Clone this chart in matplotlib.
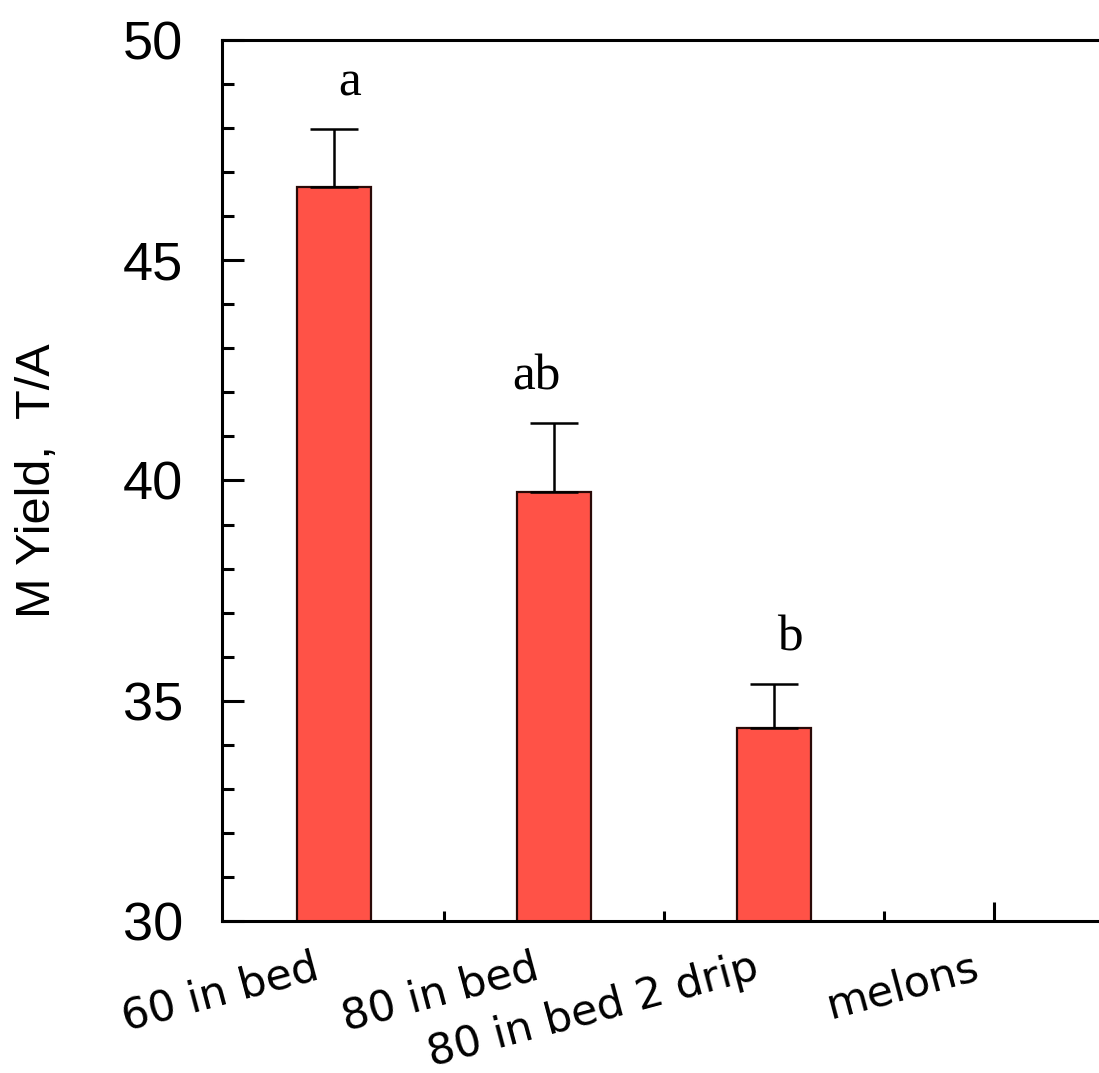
import numpy as np
import matplotlib as mpl
mpl.use('Agg')
import matplotlib.pyplot as plt
import matplotlib.transforms as mtransforms

# ---- data ----
categories = ['60 in bed', '80 in bed', '80 in bed 2 drip', 'melons']
yields = [46.66, 39.74, 34.38]
errors = [1.32, 1.57, 1.00]
letters = ['a', 'ab', 'b']

# ---- style ----
dpi = 100
mpl.rc('figure', facecolor='white')
mpl.rc('font', family=['Liberation Sans', 'DejaVu Sans'])
mpl.rc('axes', linewidth=2.2)
mpl.rc('ytick', direction='in', labelsize=39)
mpl.rc('xtick', direction='in')
mpl.rc('ytick.major', size=16, width=2.2, pad=28)
mpl.rc('ytick.minor', size=8.5, width=2.2)
mpl.rc('xtick.major', size=14, width=2.2)
mpl.rc('xtick.minor', size=7, width=2.2)

fig = plt.figure(figsize=(1099/dpi, 1073/dpi), dpi=dpi)
ax = fig.add_axes([222/1099, 152/1073, 1 - 222/1099, 881/1073])

x = np.arange(len(yields))
ax.bar(x, yields, width=0.336, bottom=0, color='#ff5247',
       edgecolor='#2a0a08', linewidth=1.6, zorder=2)
ax.errorbar(x, yields, yerr=[np.zeros(len(errors)), errors], fmt='none',
            ecolor='black', elinewidth=1.8, capsize=17, capthick=1.8, zorder=3)

# significance letters
dx = [0.07, -0.08, 0.07]
for i, lab in enumerate(letters):
    ax.text(x[i] + dx[i], yields[i] + errors[i] + 0.75, lab,
            ha='center', va='baseline', fontsize=37,
            family=['Liberation Serif', 'DejaVu Serif'])

ax.set_xlim(-0.509, 3.477)
ax.set_ylim(30, 50)
ax.set_yticks(np.arange(30, 51, 5))
ax.yaxis.set_minor_locator(mpl.ticker.MultipleLocator(1))
ax.set_xticks([3])
ax.set_xticks([0.5, 1.5, 2.5], minor=True)
ax.set_xticklabels([])
ax.spines['right'].set_visible(False)

# slanted category labels
trans = mtransforms.blended_transform_factory(ax.transData, ax.transAxes)
for i, cat in enumerate(categories):
    ax.text(i - 0.06, -0.065, cat, transform=trans, rotation=15,
            rotation_mode='anchor', ha='right', va='baseline', fontsize=31,
            family=['DejaVu Sans'])

ax.set_ylabel('M Yield,  T/A', fontsize=35)
ax.yaxis.set_label_coords(-0.185, 0.5)

fig.savefig('out.png', dpi=dpi)
